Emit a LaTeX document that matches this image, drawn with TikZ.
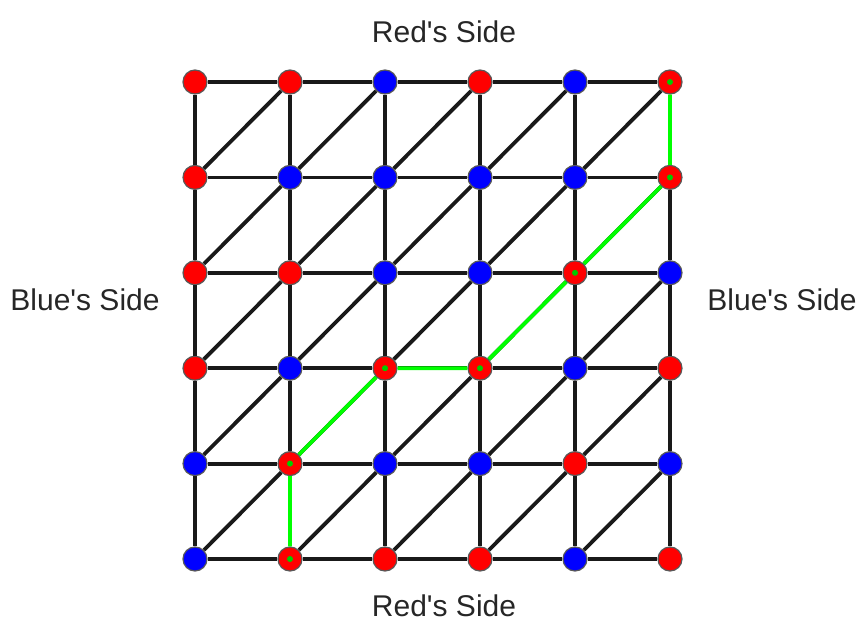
\documentclass[tikz,border=0pt]{standalone}
\usepackage{fontspec}
\setmainfont{Liberation Sans}

\begin{document}
\begin{tikzpicture}[x=0.5pt, y=-0.5pt,
   ptr/.style={circle, draw=black!65, line width=0.6pt, fill=red, minimum size=12pt, inner sep=0pt},
   ptb/.style={circle, draw=black!65, line width=0.6pt, fill=blue, minimum size=12pt, inner sep=0pt},
   gridline/.style={line width=1.9pt, black!90},
   winline/.style={line width=1.9pt, green},
   sidelabel/.style={font=\fontsize{15}{18}\selectfont, text=black!85}
]
\useasboundingbox (0,0) rectangle (858,621);

% Nodes
\foreach \i/\cols in {0/{r,r,b,r,b,r}, 1/{r,b,b,b,b,r}, 2/{r,r,b,b,r,b},
                      3/{r,b,r,r,b,r}, 4/{b,r,b,b,r,b}, 5/{b,r,r,r,b,r}} {
  \foreach \c [count=\j from 0] in \cols {
    \node [pt\c] (n-\i-\j) at ({195+95*\j}, {82+95.4*\i}) {};
  }
}

% Labels
\node [sidelabel] (redtop) at (444,32) {Red\textquotesingle s Side};
\node [sidelabel] (redbottom) at (444,606) {Red\textquotesingle s Side};
\node [sidelabel] (blueleft) at (85,300) {Blue\textquotesingle s Side};
\node [sidelabel] (blueright) at (782,300) {Blue\textquotesingle s Side};

% Connections
\foreach \i [evaluate=\i as \ii using int(\i+1)] in {0,...,5} {
  \foreach \j [evaluate=\j as \jj using int(\j+1)] in {0,...,4} {
    \draw [gridline] (n-\i-\j) -- (n-\i-\jj);
    \draw [gridline] (n-\j-\i) -- (n-\jj-\i);
  }
}
\foreach \i [evaluate=\i as \ii using int(\i+1)] in {0,...,4} {
  \foreach \j [evaluate=\j as \jj using int(\j+1)] in {0,...,4} {
    \draw [gridline] (n-\ii-\j) -- (n-\i-\jj);
  }
}

% Winning path
\draw [winline] (n-5-1) -- (n-4-1) -- (n-3-2) -- (n-3-3) -- (n-2-4) -- (n-1-5) -- (n-0-5);
\foreach \p in {n-5-1, n-4-1, n-3-2, n-3-3, n-2-4, n-1-5, n-0-5}
  \fill [green!80!black] (\p) circle (1.5pt);

\end{tikzpicture}
\end{document}
